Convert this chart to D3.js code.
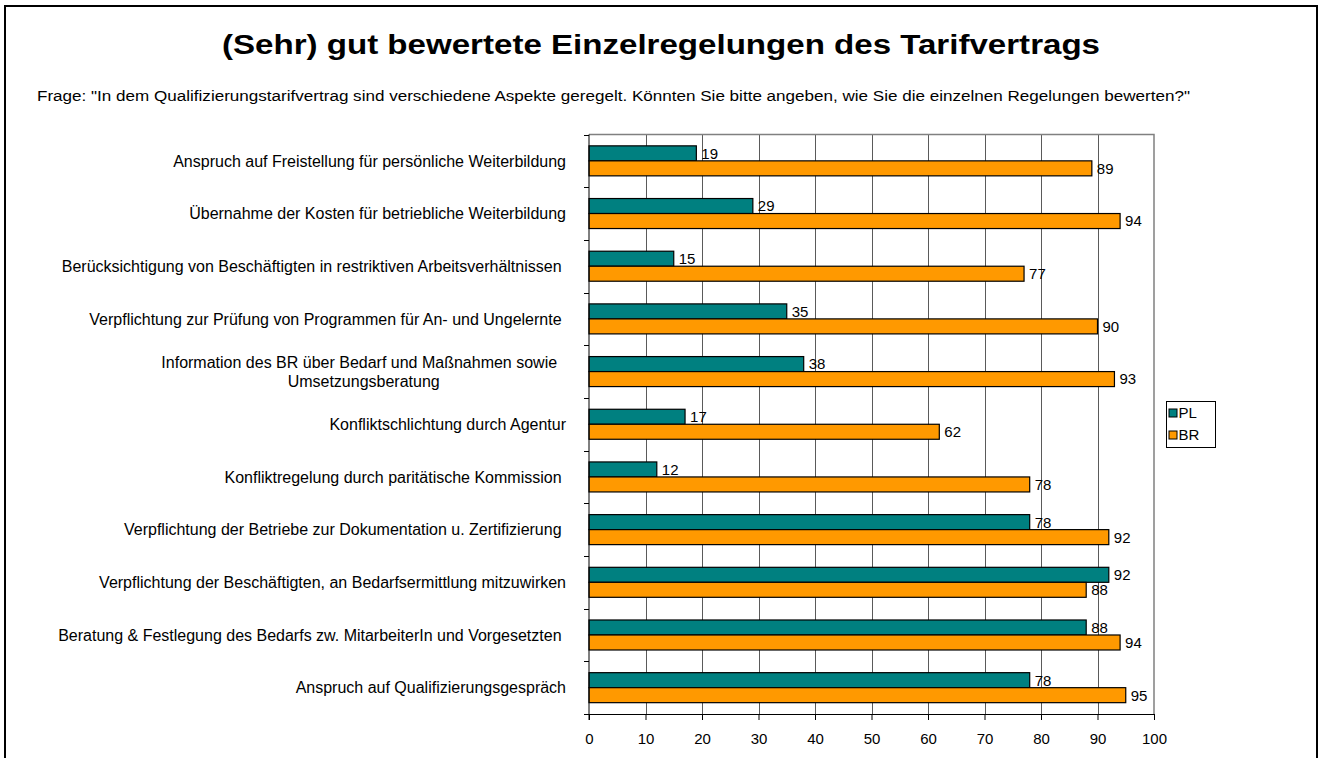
<!DOCTYPE html>
<html>
<head>
<meta charset="utf-8">
<script src="https://cdn.jsdelivr.net/npm/d3@7"></script>
<style>
  body { margin: 0; background: #fff; }
  svg text { font-family: Arial, "Liberation Sans", sans-serif; white-space: pre; }
</style>
</head>
<body>
<div id="chart"></div>
<script>
const TITLE = '(Sehr) gut bewertete Einzelregelungen des Tarifvertrags'
const SUBTITLE = 'Frage: "In dem Qualifizierungstarifvertrag sind verschiedene Aspekte geregelt. Könnten Sie bitte angeben, wie Sie die einzelnen Regelungen bewerten?"'

const categories = [
  'Anspruch auf Freistellung für persönliche Weiterbildung',
  'Übernahme der Kosten für betriebliche Weiterbildung',
  'Berücksichtigung von Beschäftigten in restriktiven Arbeitsverhältnissen ',
  'Verpflichtung zur Prüfung von Programmen für An- und Ungelernte ',
  'Information des BR über Bedarf und Maßnahmen sowie  \nUmsetzungsberatung',
  'Konfliktschlichtung durch Agentur',
  'Konfliktregelung durch paritätische Kommission ',
  'Verpflichtung der Betriebe zur Dokumentation u. Zertifizierung ',
  'Verpflichtung der Beschäftigten, an Bedarfsermittlung mitzuwirken',
  'Beratung & Festlegung des Bedarfs zw. MitarbeiterIn und Vorgesetzten ',
  'Anspruch auf Qualifizierungsgespräch'
]
const seriesNames = ['PL', 'BR']
const valuesPL = [19, 29, 15, 35, 38, 17, 12, 78, 92, 88, 78]
const valuesBR = [89, 94, 77, 90, 93, 62, 78, 92, 88, 94, 95]
const xTicks = [0, 10, 20, 30, 40, 50, 60, 70, 80, 90, 100]

const COLORS = { PL: '#008080', BR: '#FF9900' }

const W = 1321, H = 758
const plot = { left: 589, right: 1154, top: 134.5, bottom: 714 }

const svg = d3.select('#chart').append('svg')
  .attr('width', W).attr('height', H)

// outer frame
svg.append('rect')
  .attr('x', 5).attr('y', 6).attr('width', 1312).attr('height', 780)
  .attr('fill', 'none').attr('stroke', '#000').attr('stroke-width', 2)

// title + question (the source font runs wider than Liberation, so stretch)
svg.append('text')
  .attr('x', 661).attr('y', 54)
  .attr('text-anchor', 'middle')
  .attr('font-size', '28px').attr('font-weight', 'bold')
  .attr('textLength', 878).attr('lengthAdjust', 'spacingAndGlyphs')
  .text(TITLE)

svg.append('text')
  .attr('x', 37).attr('y', 101)
  .attr('font-size', '14px')
  .attr('textLength', 1153).attr('lengthAdjust', 'spacingAndGlyphs')
  .text(SUBTITLE)

const x = d3.scaleLinear().domain([0, 100]).range([plot.left, plot.right])
const y = d3.scaleBand().domain(categories).range([plot.top, plot.bottom])
const ySub = d3.scaleBand().domain(seriesNames)
  .range([y.bandwidth() * 0.2155, y.bandwidth() * 0.785])

const rows = categories.map((c, i) => ({ cat: c, PL: valuesPL[i], BR: valuesBR[i] }))

// grid
svg.append('g')
  .selectAll('line').data(xTicks.filter(t => t > 0 && t < 100)).join('line')
  .attr('x1', d => Math.round(x(d)) + 0.5).attr('x2', d => Math.round(x(d)) + 0.5)
  .attr('y1', plot.top).attr('y2', plot.bottom)
  .attr('stroke', '#5a5a5a').attr('stroke-width', 1)

// plot border top/right
svg.append('path')
  .attr('d', `M${plot.left},${plot.top}H${plot.right}V${plot.bottom}`)
  .attr('fill', 'none').attr('stroke', '#808080').attr('stroke-width', 1.5)

// bars
const groups = svg.append('g').selectAll('g').data(rows).join('g')
  .attr('transform', d => `translate(0,${y(d.cat)})`)

seriesNames.forEach(s => {
  groups.append('rect')
    .attr('x', x(0))
    .attr('y', ySub(s))
    .attr('width', d => x(d[s]) - x(0))
    .attr('height', ySub.bandwidth())
    .attr('fill', COLORS[s])
    .attr('stroke', '#000').attr('stroke-width', 1.2)

  groups.append('text')
    .attr('x', d => x(d[s]) + 5)
    .attr('y', ySub(s) + ySub.bandwidth() / 2)
    .attr('dy', '0.36em')
    .attr('font-size', '15px')
    .text(d => d[s])
})

// axes
const xAxis = svg.append('g')
  .attr('transform', `translate(0,${plot.bottom})`)
  .call(d3.axisBottom(x).tickValues(xTicks).tickSize(6).tickSizeOuter(0).tickPadding(13))
xAxis.select('.domain').attr('stroke', '#000')
xAxis.selectAll('.tick line').attr('stroke', '#000')
xAxis.selectAll('text').attr('font-size', '15px').attr('fill', '#000')
  .attr('font-family', 'Arial, "Liberation Sans", sans-serif')

const bounds = d3.range(categories.length + 1).map(i => plot.top + i * y.step())
svg.append('line')
  .attr('x1', plot.left).attr('x2', plot.left)
  .attr('y1', plot.top).attr('y2', plot.bottom + 6)
  .attr('stroke', '#000')
svg.append('g').selectAll('line').data(bounds).join('line')
  .attr('x1', plot.left - 5).attr('x2', plot.left)
  .attr('y1', d => Math.round(d) + 0.5).attr('y2', d => Math.round(d) + 0.5)
  .attr('stroke', '#000')

// category labels: block right-aligned, lines centred within it
const labelRight = 566
const labels = svg.append('g').selectAll('text').data(categories).join('text')
  .attr('font-size', '16px')
  .attr('fill', '#000')
labels.each(function (d) {
  const lines = d.split('\n')
  const t = d3.select(this)
  const cy = y(d) + y.bandwidth() / 2
  const lh = 19
  const tspans = lines.map((ln, i) => t.append('tspan')
    .attr('y', cy + (i - (lines.length - 1) / 2) * lh)
    .attr('dy', '0.36em')
    .text(ln))
  const widths = tspans.map(ts => ts.node().getComputedTextLength())
  const maxW = d3.max(widths)
  const center = labelRight - maxW / 2
  tspans.forEach(ts => ts.attr('x', center).attr('text-anchor', 'middle'))
})

// legend
const lg = svg.append('g').attr('transform', 'translate(1166.5,401.5)')
lg.append('rect').attr('width', 49).attr('height', 46)
  .attr('fill', '#fff').attr('stroke', '#000')
seriesNames.forEach((s, i) => {
  lg.append('rect').attr('x', 2.5).attr('y', 7.5 + i * 22)
    .attr('width', 8).attr('height', 8)
    .attr('fill', COLORS[s]).attr('stroke', '#000')
  lg.append('text').attr('x', 12).attr('y', 11.5 + i * 22).attr('dy', '0.36em')
    .attr('font-size', '15px').text(s)
})
</script>
</body>
</html>
